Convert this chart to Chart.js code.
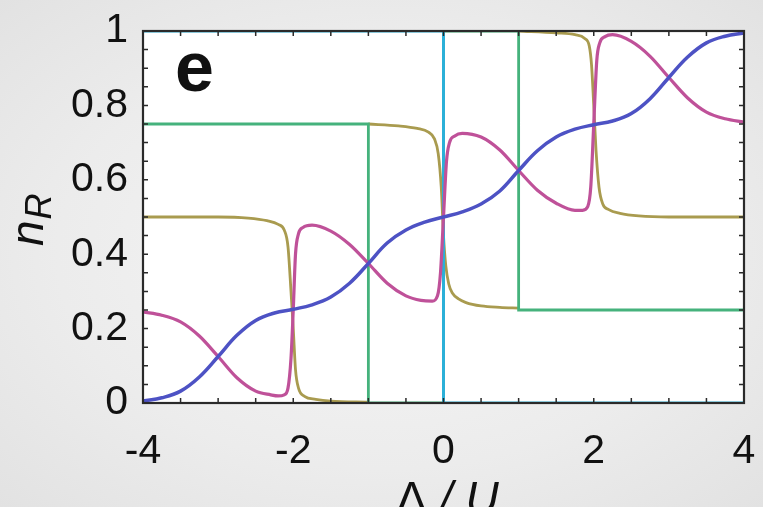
<!DOCTYPE html>
<html>
<head>
<meta charset="utf-8">
<script src="https://cdn.jsdelivr.net/npm/chart.js@4"></script>
<style>
  html, body { margin: 0; padding: 0; }
  body {
    width: 763px; height: 507px; overflow: hidden;
    background: radial-gradient(ellipse at center, #f6f6f6 0%, #ececec 60%, #e2e2e2 100%);
  }
  canvas { display: block; }
</style>
</head>
<body>
<canvas id="occChart" width="763" height="507"></canvas>
<script>
// tick labels
const xTickLabels = [-4, -2, 0, 2, 4];
const yTickLabels = [0, 0.2, 0.4, 0.6, 0.8, 1];

// blue: smooth staircase
const blueX = [-4, -3.75, -3.5, -3.25, -3, -2.75, -2.5, -2.25, -2, -1.75, -1.5, -1.25, -1, -0.75, -0.5, -0.25, 0,
               0.25, 0.5, 0.75, 1, 1.25, 1.5, 1.75, 2, 2.25, 2.5, 2.75, 3, 3.25, 3.5, 3.75, 4];
const blueY = [0.005, 0.014, 0.032, 0.07, 0.125, 0.182, 0.222, 0.242, 0.252, 0.264, 0.285, 0.322, 0.375, 0.43, 0.465, 0.486, 0.5,
               0.514, 0.535, 0.57, 0.625, 0.678, 0.715, 0.736, 0.748, 0.758, 0.778, 0.818, 0.875, 0.93, 0.968, 0.986, 0.995];

// magenta
const magentaX = [-4, -3.75, -3.5, -3.25, -3, -2.75, -2.5, -2.3, -2.2, -2.12, -2.07, -2.03, -2, -1.97, -1.93, -1.87, -1.75,
                  -1.5, -1.25, -1, -0.75, -0.5, -0.3, -0.15, -0.08, -0.04, 0, 0.04, 0.08, 0.15, 0.25, 0.5, 0.75,
                  1, 1.25, 1.5, 1.75, 1.85, 1.92, 1.96, 2, 2.04, 2.08, 2.15, 2.25, 2.5, 2.75, 3, 3.25, 3.5, 3.75, 4];
const magentaY = [0.245, 0.236, 0.218, 0.18, 0.125, 0.068, 0.032, 0.022, 0.019, 0.022, 0.04, 0.12, 0.25, 0.4, 0.455, 0.472, 0.478,
                  0.462, 0.426, 0.375, 0.322, 0.288, 0.276, 0.274, 0.288, 0.35, 0.5, 0.65, 0.7, 0.718, 0.725, 0.715, 0.68,
                  0.625, 0.572, 0.537, 0.518, 0.518, 0.528, 0.58, 0.75, 0.92, 0.968, 0.985, 0.99, 0.972, 0.932, 0.875, 0.82, 0.782, 0.764, 0.755];

// olive (null = break at x = -1 and x = 1)
const oliveX = [-4, -3, -2.6, -2.35, -2.2, -2.12, -2.07, -2.03, -2, -1.97, -1.93, -1.85, -1.7, -1.5, -1,
                -1,
                -1, -0.6, -0.35, -0.2, -0.12, -0.07, -0.03, 0, 0.03, 0.07, 0.12, 0.2, 0.3, 0.5, 0.75, 1,
                1,
                1, 1.5, 1.75, 1.88, 1.94, 1.97, 2, 2.03, 2.07, 2.12, 2.2, 2.35, 2.6, 3, 4];
const oliveY = [0.5, 0.5, 0.497, 0.49, 0.48, 0.465, 0.42, 0.3, 0.2, 0.09, 0.04, 0.018, 0.01, 0.005, 0.002,
                null,
                0.75, 0.745, 0.738, 0.728, 0.71, 0.67, 0.58, 0.45, 0.37, 0.32, 0.295, 0.28, 0.27, 0.261, 0.257, 0.255,
                null,
                1, 0.995, 0.99, 0.98, 0.96, 0.91, 0.8, 0.68, 0.58, 0.535, 0.52, 0.51, 0.503, 0.5, 0.5];

// green and cyan steps
const greenX = [-4, -1, -1, 0, 0, 1, 1, 4];
const greenY = [0.75, 0.75, 0, 0, 1, 1, 0.25, 0.25];
const cyanX = [-4, 0, 0, 4];
const cyanY = [1, 1, 0, 0];

const toPoints = (xs, ys) => xs.map((x, i) => ({ x: x, y: ys[i] }));

const frameAndText = {
  id: 'frameAndText',
  beforeDraw(chart) {
    const { ctx, chartArea: a } = chart;
    ctx.save();
    ctx.fillStyle = '#ffffff';
    ctx.fillRect(a.left, a.top, a.right - a.left, a.bottom - a.top);
    ctx.restore();
  },
  afterDatasetsDraw(chart) {
    const { ctx, chartArea: a, scales } = chart;
    ctx.save();
    // inward ticks on all sides
    ctx.strokeStyle = '#2a2a2a';
    ctx.lineWidth = 1.5;
    ctx.beginPath();
    scales.x.ticks.forEach(t => {
      const px = scales.x.getPixelForValue(t.value);
      ctx.moveTo(px, a.bottom); ctx.lineTo(px, a.bottom - 5);
      ctx.moveTo(px, a.top); ctx.lineTo(px, a.top + 5);
    });
    scales.y.ticks.forEach(t => {
      const py = scales.y.getPixelForValue(t.value);
      ctx.moveTo(a.left, py); ctx.lineTo(a.left + 5, py);
      ctx.moveTo(a.right, py); ctx.lineTo(a.right - 5, py);
    });
    ctx.stroke();
    // frame
    ctx.lineWidth = 2.2;
    ctx.strokeRect(a.left, a.top, a.right - a.left, a.bottom - a.top);
    ctx.restore();
  },
  afterDraw(chart) {
    const { ctx, chartArea: a } = chart;
    ctx.save();
    ctx.fillStyle = '#111';
    ctx.textBaseline = 'alphabetic';
    ctx.textAlign = 'left';
    // panel letter
    ctx.font = 'bold 70px "Liberation Sans", Arial, sans-serif';
    ctx.fillText('e', a.left + 32, 91);

    // x title
    const cx = (a.left + a.right) / 2 + 4;
    ctx.font = '46px "Liberation Sans", Arial, sans-serif';
    const wD = ctx.measureText('\u0394').width;
    ctx.font = 'italic 46px "Liberation Sans", Arial, sans-serif';
    const wRest = ctx.measureText(' / U').width;
    const x0 = cx - (wD + wRest) / 2;
    ctx.font = '46px "Liberation Sans", Arial, sans-serif';
    ctx.fillText('\u0394', x0, 514);
    ctx.font = 'italic 46px "Liberation Sans", Arial, sans-serif';
    ctx.fillText(' / U', x0 + wD, 514);

    // y title n_R
    ctx.translate(43, 246);
    ctx.rotate(-Math.PI / 2);
    ctx.font = 'italic 46px "Liberation Sans", Arial, sans-serif';
    ctx.fillText('n', 0, 0);
    const wn = ctx.measureText('n').width;
    ctx.font = 'italic 36px "Liberation Sans", Arial, sans-serif';
    ctx.fillText('R', wn + 1, 8);
    ctx.restore();
  }
};

const tickFont = { family: '"Liberation Sans", Arial, sans-serif', size: 41 };
const noPad = s => { s.paddingTop = 0; s.paddingBottom = 0; s.paddingLeft = 0; s.paddingRight = 0; };

new Chart(document.getElementById('occChart'), {
  type: 'line',
  data: {
    datasets: [
      { data: toPoints(blueX, blueY), borderColor: '#4d52c4', borderWidth: 3.5, tension: 0.4 },
      { data: toPoints(magentaX, magentaY), borderColor: '#bf5199', borderWidth: 3.2, cubicInterpolationMode: 'monotone' },
      { data: toPoints(cyanX, cyanY), borderColor: '#2bb0d8', borderWidth: 3 },
      { data: toPoints(greenX, greenY), borderColor: '#45b27c', borderWidth: 2.8 },
      { data: toPoints(oliveX, oliveY), borderColor: '#a99b4f', borderWidth: 2.8, cubicInterpolationMode: 'monotone', spanGaps: false }
    ]
  },
  options: {
    responsive: false,
    animation: false,
    events: [],
    elements: { point: { radius: 0 }, line: { fill: false } },
    layout: { padding: { left: 0, top: 31, right: 19, bottom: 0 } },
    plugins: { legend: { display: false }, tooltip: { enabled: false } },
    scales: {
      x: {
        type: 'linear', min: -4, max: 4,
        grid: { display: false, drawTicks: false },
        border: { display: false },
        ticks: {
          stepSize: 0.5, autoSkip: false, maxRotation: 0, minRotation: 0,
          padding: 24, color: '#111', font: tickFont,
          callback: v => xTickLabels.includes(v) ? String(v) : ''
        },
        afterFit: s => { s.height = 104; noPad(s); }
      },
      y: {
        type: 'linear', min: 0, max: 1,
        grid: { display: false, drawTicks: false },
        border: { display: false },
        ticks: {
          stepSize: 0.05, autoSkip: false, padding: 15, color: '#111', font: tickFont,
          callback: v => {
            const r = Math.round(v * 20) / 20;
            return yTickLabels.some(t => Math.abs(t - r) < 1e-9) ? String(r) : '';
          }
        },
        afterFit: s => { s.width = 143; noPad(s); }
      }
    }
  },
  plugins: [frameAndText]
});
</script>
</body>
</html>
